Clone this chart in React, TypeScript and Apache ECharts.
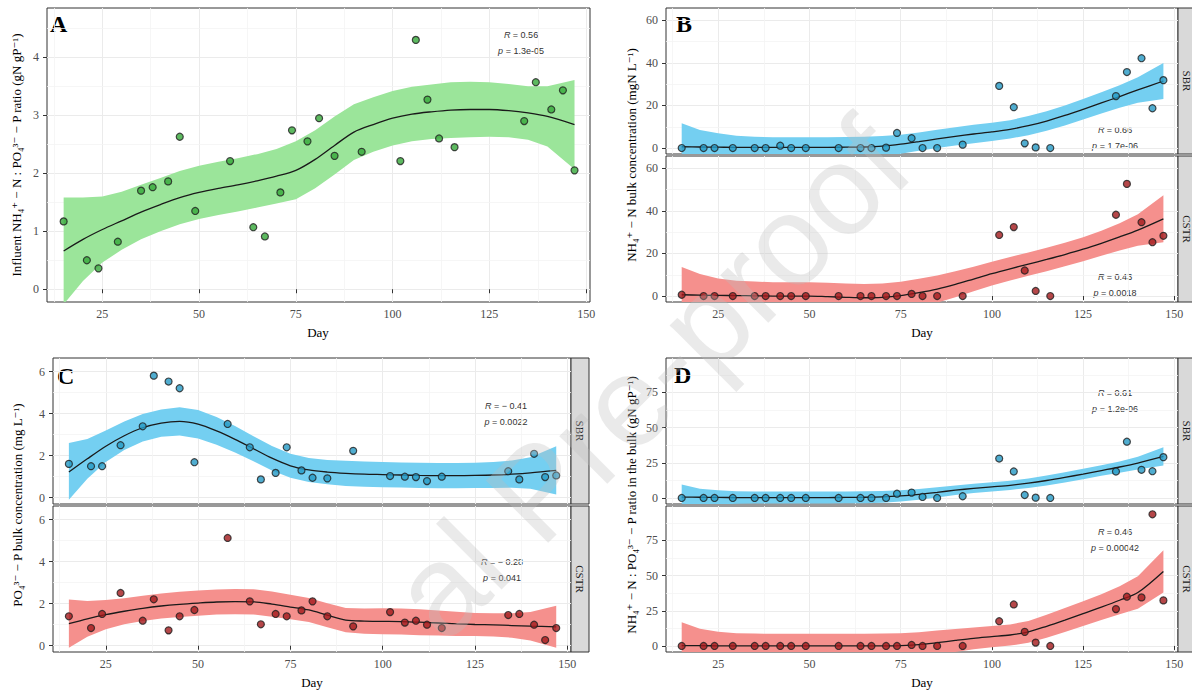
import React, { useEffect, useRef } from "react";
import * as echarts from "echarts";

// ---------- data ----------
const days = [15, 21, 24, 29, 35, 38, 42, 45, 49, 58, 64, 67, 71, 74, 78, 81, 85, 92, 102, 106, 109, 112, 116, 134, 137, 141, 144, 147];

const ratioInfluent = [1.17, 0.5, 0.36, 0.82, 1.7, 1.76, 1.86, 2.63, 1.35, 2.21, 1.07, 0.91, 1.67, 2.74, 2.55, 2.95, 2.3, 2.37, 2.21, 4.3, 3.27, 2.6, 2.45, 2.9, 3.57, 3.1, 3.43, 2.05];
const nh4SBR = [0, 0, 0, 0, 0, 0, 1.1, 0, 0, 0, 0, 0, 0.2, 7.1, 4.6, 0, 0, 1.6, 29.2, 19.2, 2.2, 0.3, 0, 24.4, 35.7, 42.2, 18.7, 31.9];
const nh4CSTR = [0.6, 0, 0, 0, 0, 0, 0, 0, 0, 0, 0, 0, 0, 0, 1, 0, 0, 0, 28.7, 32.4, 12, 2.4, 0, 38.2, 52.7, 34.7, 25.3, 28.3];
const po4SBR = [1.61, 1.5, 1.5, 2.5, 3.4, 5.81, 5.53, 5.21, 1.69, 3.51, 2.4, 0.87, 1.18, 2.4, 1.3, 0.95, 0.92, 2.23, 1.03, 1.0, 0.98, 0.79, 1.0, 1.26, 0.87, 2.09, 0.98, 1.06];
const po4CSTR = [1.4, 0.84, 1.51, 2.51, 1.19, 2.21, 0.73, 1.4, 1.7, 5.13, 2.11, 1.02, 1.51, 1.4, 1.68, 2.11, 1.4, 0.92, 1.6, 1.1, 1.19, 1.0, 0.84, 1.46, 1.51, 1.0, 0.27, 0.84];
const ratioSBR = [0, 0, 0, 0, 0, 0, 0, 0, 0, 0, 0, 0, 0, 3, 3.8, 0.7, 0, 1.2, 28, 18.8, 2.1, 0.2, 0, 18.8, 40, 20, 19, 29];
const ratioCSTR = [0, 0, 0, 0, 0, 0, 0, 0, 0, 0, 0, 0, 0, 0, 0.7, 0, 0, 0, 17.6, 29.5, 10, 2.4, 0, 26.2, 35, 34.5, 93.6, 32.4];

// smoothed fits and confidence bands
const fitDays = [15, 20, 25, 30, 35, 40, 45, 50, 55, 60, 65, 70, 75, 80, 85, 90, 95, 100, 105, 110, 115, 120, 125, 130, 135, 140, 147];

const fitA = [0.66, 0.86, 1.03, 1.18, 1.33, 1.46, 1.58, 1.67, 1.74, 1.8, 1.87, 1.95, 2.05, 2.24, 2.48, 2.71, 2.84, 2.95, 3.02, 3.06, 3.09, 3.1, 3.1, 3.08, 3.04, 2.98, 2.84];
const hiA = [1.58, 1.58, 1.6, 1.68, 1.8, 1.92, 2.04, 2.13, 2.2, 2.26, 2.33, 2.42, 2.55, 2.74, 2.98, 3.19, 3.31, 3.42, 3.49, 3.53, 3.57, 3.58, 3.57, 3.54, 3.5, 3.5, 3.61];
const loA = [-0.26, 0.14, 0.46, 0.68, 0.86, 1.0, 1.12, 1.21, 1.28, 1.34, 1.41, 1.48, 1.55, 1.74, 1.98, 2.23, 2.37, 2.48, 2.55, 2.59, 2.61, 2.62, 2.63, 2.62, 2.58, 2.46, 2.07];

const fitNh4SBR = [0.6, 0.5, 0.4, 0.3, 0.3, 0.3, 0.3, 0.3, 0.3, 0.4, 0.5, 0.9, 1.8, 3.0, 4.3, 5.5, 6.6, 7.6, 8.8, 10.5, 12.7, 15.3, 18.2, 21.2, 24.2, 27.3, 31.5];
const hiNh4SBR = [11.6, 8.5, 6.9, 5.8, 5.3, 5.1, 5.1, 5.1, 5.1, 5.2, 5.3, 5.7, 6.3, 7.3, 8.6, 9.8, 10.9, 11.9, 13.1, 15.0, 17.3, 20.0, 23.0, 26.2, 29.5, 33.3, 40.0];
const loNh4SBR = [-10.4, -7.5, -6.1, -5.2, -4.7, -4.5, -4.5, -4.5, -4.5, -4.4, -4.3, -3.9, -2.7, -1.3, 0.0, 1.2, 2.3, 3.3, 4.5, 6.0, 8.1, 10.6, 13.4, 16.2, 18.9, 21.3, 23.0];

const fitNh4CSTR = [0.6, 0.4, 0.3, 0.2, 0.1, 0.0, 0.0, 0.0, -0.3, -0.6, -0.8, -0.6, 0.2, 1.6, 3.3, 5.5, 8.0, 10.5, 12.8, 15.0, 17.2, 19.5, 22.0, 24.8, 27.8, 31.0, 36.3];
const hiNh4CSTR = [13.6, 10.4, 8.3, 7.2, 6.8, 6.5, 6.5, 6.5, 6.2, 5.9, 5.7, 5.9, 6.7, 8.1, 9.7, 11.6, 13.8, 16.1, 18.3, 20.5, 22.7, 25.0, 27.6, 30.7, 34.2, 38.4, 47.3];
const loNh4CSTR = [-12.4, -9.6, -7.7, -6.8, -6.6, -6.5, -6.5, -6.5, -6.8, -7.1, -7.3, -7.1, -6.3, -4.9, -3.1, -0.6, 2.2, 4.9, 7.3, 9.5, 11.7, 14.0, 16.4, 18.9, 21.4, 23.6, 25.3];

const fitPo4SBR = [1.22, 1.85, 2.45, 2.95, 3.33, 3.55, 3.63, 3.5, 3.18, 2.78, 2.33, 1.88, 1.52, 1.32, 1.22, 1.16, 1.12, 1.1, 1.08, 1.06, 1.05, 1.05, 1.06, 1.08, 1.12, 1.18, 1.3];
const hiPo4SBR = [2.6, 2.8, 3.2, 3.63, 3.98, 4.2, 4.3, 4.18, 3.84, 3.41, 2.93, 2.46, 2.09, 1.89, 1.8, 1.76, 1.72, 1.7, 1.68, 1.66, 1.65, 1.65, 1.66, 1.7, 1.77, 1.93, 2.45];
const loPo4SBR = [-0.1, 0.9, 1.7, 2.27, 2.68, 2.9, 2.96, 2.82, 2.52, 2.15, 1.73, 1.3, 0.95, 0.75, 0.64, 0.56, 0.52, 0.5, 0.48, 0.46, 0.45, 0.45, 0.46, 0.46, 0.47, 0.43, 0.15];

const fitPo4CSTR = [1.05, 1.28, 1.48, 1.64, 1.78, 1.89, 1.97, 2.03, 2.08, 2.1, 2.09, 1.98, 1.84, 1.7, 1.45, 1.22, 1.17, 1.16, 1.15, 1.12, 1.08, 1.04, 1.01, 0.99, 0.96, 0.93, 0.9];
const hiPo4CSTR = [2.2, 2.13, 2.18, 2.26, 2.38, 2.49, 2.57, 2.63, 2.68, 2.7, 2.69, 2.58, 2.42, 2.27, 2.02, 1.8, 1.77, 1.78, 1.77, 1.74, 1.68, 1.62, 1.56, 1.54, 1.54, 1.61, 1.9];
const loPo4CSTR = [-0.1, 0.43, 0.78, 1.02, 1.18, 1.29, 1.37, 1.43, 1.48, 1.5, 1.49, 1.38, 1.26, 1.13, 0.88, 0.64, 0.57, 0.54, 0.53, 0.5, 0.48, 0.46, 0.46, 0.44, 0.38, 0.25, -0.1];

const fitRatioSBR = [0.6, 0.5, 0.4, 0.3, 0.3, 0.3, 0.3, 0.3, 0.3, 0.4, 0.5, 0.8, 1.5, 2.6, 4.0, 5.5, 6.8, 7.9, 9.0, 10.5, 12.4, 14.6, 17.0, 19.5, 22.0, 24.8, 29.5];
const hiRatioSBR = [9.6, 6.5, 5.4, 4.8, 4.5, 4.5, 4.5, 4.5, 4.5, 4.6, 4.7, 5.0, 5.5, 6.4, 7.6, 8.9, 10.1, 11.2, 12.3, 13.9, 15.9, 18.2, 20.7, 23.3, 26.0, 29.3, 36.0];
const loRatioSBR = [-8.4, -5.5, -4.6, -4.2, -3.9, -3.9, -3.9, -3.9, -3.9, -3.8, -3.7, -3.4, -2.5, -1.2, 0.4, 2.1, 3.5, 4.6, 5.7, 7.1, 8.9, 11.0, 13.3, 15.7, 18.0, 20.3, 23.0];

const fitRatioCSTR = [0.3, 0.2, 0.1, 0.0, 0.0, 0.0, 0.0, 0.0, 0.0, 0.0, 0.0, 0.1, 0.3, 0.9, 2.3, 3.9, 5.4, 6.6, 7.8, 10.0, 14.0, 18.4, 23.0, 27.6, 32.5, 38.0, 53.0];
const hiRatioCSTR = [16.8, 12.2, 10.1, 9.0, 8.8, 8.7, 8.7, 8.7, 8.7, 8.7, 8.7, 8.8, 9.1, 9.7, 10.9, 12.1, 13.2, 14.1, 15.3, 17.8, 22.2, 26.9, 31.8, 36.8, 42.5, 49.5, 68.0];
const loRatioCSTR = [-16.2, -11.8, -9.9, -9.0, -8.8, -8.7, -8.7, -8.7, -8.7, -8.7, -8.7, -8.6, -8.5, -7.9, -6.3, -4.3, -2.4, -0.9, 0.3, 2.2, 5.8, 9.9, 14.2, 18.4, 22.5, 26.5, 38.0];

// tick labels
const xTicks = [25, 50, 75, 100, 125, 150];
const xMinor = [12.5, 37.5, 62.5, 87.5, 112.5, 137.5];
const yTicksA = [0, 1, 2, 3, 4];
const yMinorA = [0.5, 1.5, 2.5, 3.5, 4.5];
const yTicksB = [0, 20, 40, 60];
const yMinorB = [10, 30, 50];
const yTicksC = [0, 2, 4, 6];
const yMinorC = [1, 3, 5];
const yTicksD = [0, 25, 50, 75];
const yMinorD = [12.5, 37.5, 62.5, 87.5];

const statsA = ["0.56", "1.3e-05"];
const statsB = [["0.66", "1.7e-06"], ["0.43", "0.0018"]];
const statsC = [["\u2212 0.41", "0.0022"], ["\u2212 0.28", "0.041"]];
const statsD = [["0.61", "1.2e-06"], ["0.46", "0.00042"]];

// ---------- styles ----------
const SERIF = '"Liberation Serif", "DejaVu Serif", serif';
const SANS = '"Liberation Sans", "DejaVu Sans", sans-serif';
const GREEN_BAND = "#9be59a";
const GREEN_PT = "#35a838";
const BLUE_BAND = "#74cff1";
const BLUE_PT = "#2499c4";
const RED_BAND = "#f5908d";
const RED_PT = "#a3191b";
const XMIN = 10.7;
const XMAX = 151;

const panels = [
  { box: [47, 8, 543, 294], ymin: -0.22, ymax: 4.85, yt: yTicksA, ym: yMinorA, pts: ratioInfluent, fit: fitA, hi: hiA, lo: loA, band: GREEN_BAND, pt: GREEN_PT, bottom: true },
  { box: [666, 8, 512, 146], ymin: -2.8, ymax: 65.8, yt: yTicksB, ym: yMinorB, pts: nh4SBR, fit: fitNh4SBR, hi: hiNh4SBR, lo: loNh4SBR, band: BLUE_BAND, pt: BLUE_PT, bottom: false },
  { box: [666, 156, 512, 146], ymin: -2.8, ymax: 65.8, yt: yTicksB, ym: yMinorB, pts: nh4CSTR, fit: fitNh4CSTR, hi: hiNh4CSTR, lo: loNh4CSTR, band: RED_BAND, pt: RED_PT, bottom: true },
  { box: [53, 358, 518, 146], ymin: -0.3, ymax: 6.65, yt: yTicksC, ym: yMinorC, pts: po4SBR, fit: fitPo4SBR, hi: hiPo4SBR, lo: loPo4SBR, band: BLUE_BAND, pt: BLUE_PT, bottom: false },
  { box: [53, 506, 518, 146], ymin: -0.3, ymax: 6.65, yt: yTicksC, ym: yMinorC, pts: po4CSTR, fit: fitPo4CSTR, hi: hiPo4CSTR, lo: loPo4CSTR, band: RED_BAND, pt: RED_PT, bottom: true },
  { box: [666, 358, 512, 146], ymin: -4.3, ymax: 99.5, yt: yTicksD, ym: yMinorD, pts: ratioSBR, fit: fitRatioSBR, hi: hiRatioSBR, lo: loRatioSBR, band: BLUE_BAND, pt: BLUE_PT, bottom: false },
  { box: [666, 506, 512, 146], ymin: -4.3, ymax: 99.5, yt: yTicksD, ym: yMinorD, pts: ratioCSTR, fit: fitRatioCSTR, hi: hiRatioCSTR, lo: loRatioCSTR, band: RED_BAND, pt: RED_PT, bottom: true },
];

function buildOption() {
  const grid: any[] = [];
  const xAxis: any[] = [];
  const yAxis: any[] = [];
  const series: any[] = [];

  panels.forEach((p, i) => {
    const [left, top, width, height] = p.box;
    grid.push({ left, top, width, height, show: true, borderColor: "#333333", borderWidth: 1, containLabel: false });
    xAxis.push({
      type: "value", gridIndex: i, min: XMIN, max: XMAX, minInterval: 25, maxInterval: 25,
      axisLine: { show: false },
      axisTick: { show: p.bottom, length: 4, lineStyle: { color: "#333" }, customValues: xTicks },
      axisLabel: {
        show: p.bottom, customValues: xTicks, margin: 6, color: "#4d4d4d", fontFamily: SERIF, fontSize: 12,
        formatter: (v: number) => (v % 25 === 0 ? String(v) : ""),
      },
      splitLine: { show: true, lineStyle: { color: "#ebebeb", width: 1 } },
    });
    const yStep = p.yt[1] - p.yt[0];
    yAxis.push({
      type: "value", gridIndex: i, min: p.ymin, max: p.ymax, minInterval: yStep, maxInterval: yStep,
      axisLine: { show: false },
      axisTick: { show: true, length: 4, lineStyle: { color: "#333" }, customValues: p.yt },
      axisLabel: {
        show: true, customValues: p.yt, margin: 8, color: "#4d4d4d", fontFamily: SERIF, fontSize: 12,
        formatter: (v: number) => (Math.abs(v % yStep) < 1e-9 ? String(v) : ""),
      },
      splitLine: { show: true, lineStyle: { color: "#ebebeb", width: 1 } },
    });

    // confidence band (drawn through the axes' scales)
    series.push({
      type: "custom", xAxisIndex: i, yAxisIndex: i, z: 2, silent: true, clip: true,
      data: [[fitDays[0], p.fit[0]]],
      renderItem: (params: any, api: any) => {
        const pts: number[][] = [];
        for (let k = 0; k < fitDays.length; k++) pts.push(api.coord([fitDays[k], p.hi[k]]));
        for (let k = fitDays.length - 1; k >= 0; k--) pts.push(api.coord([fitDays[k], p.lo[k]]));
        const cs = params.coordSys;
        return {
          type: "polygon",
          shape: { points: pts },
          style: { fill: p.band, stroke: "none" },
          clipPath: { type: "rect", shape: { x: cs.x, y: cs.y, width: cs.width, height: cs.height } },
        };
      },
      markLine: {
        silent: true, symbol: ["none", "none"], z: 1, animation: false,
        label: { show: false },
        lineStyle: { color: "#f4f4f4", width: 0.8, type: "solid" },
        data: [...xMinor.map((v) => ({ xAxis: v })), ...p.ym.filter((v) => v < p.ymax).map((v) => ({ yAxis: v }))],
      },
    });
    series.push({
      type: "line", xAxisIndex: i, yAxisIndex: i, z: 4,
      data: fitDays.map((d, k) => [d, p.fit[k]]), symbol: "none", smooth: 0.3,
      lineStyle: { color: "#1a1a1a", width: 1.3 }, silent: true, clip: true,
    });
    series.push({
      type: "scatter", xAxisIndex: i, yAxisIndex: i, z: 6,
      data: days.map((d, k) => [d, p.pts[k]]), symbol: "circle", symbolSize: 7,
      itemStyle: { color: p.pt, borderColor: "#1e1e1e", borderWidth: 1.2 }, silent: true,
    });
  });

  const graphic: any[] = [];
  // strips
  const strips = [
    [1, "SBR"], [2, "CSTR"], [3, "SBR"], [4, "CSTR"], [5, "SBR"], [6, "CSTR"],
  ] as [number, string][];
  strips.forEach(([idx, label]) => {
    const [left, top, width, height] = panels[idx].box;
    const sx = left + width;
    graphic.push({ type: "rect", shape: { x: sx, y: top, width: 18, height }, style: { fill: "#d9d9d9", stroke: "#333333", lineWidth: 1 }, silent: true });
    graphic.push({
      type: "text", x: sx + 9, y: top + height / 2, rotation: -Math.PI / 2, silent: true,
      style: { text: label, fill: "#1a1a1a", font: `11px ${SERIF}`, align: "center", verticalAlign: "middle" },
    });
  });

  // y-axis titles
  const yTitles: [number, number, string][] = [
    [16, 155, "Influent NH\u2084\u207A \u2212 N : PO\u2084\u00B3\u207B \u2212 P ratio (gN gP\u207B\u00B9)"],
    [631, 155, "NH\u2084\u207A \u2212 N bulk concentration (mgN L\u207B\u00B9)"],
    [17, 505, "PO\u2084\u00B3\u207B \u2212 P bulk concentration (mg L\u207B\u00B9)"],
    [631, 505, "NH\u2084\u207A \u2212 N : PO\u2084\u00B3\u207B \u2212 P ratio in the bulk (gN gP\u207B\u00B9)"],
  ];
  yTitles.forEach(([x, y, t]) => {
    graphic.push({
      type: "text", x, y, rotation: Math.PI / 2, silent: true,
      style: { text: t, fill: "#000", font: `13px ${SERIF}`, align: "center", verticalAlign: "middle" },
    });
  });

  // x-axis titles
  [[318, 332], [922, 332], [312, 682], [922, 682]].forEach(([x, y]) => {
    graphic.push({ type: "text", x, y, silent: true, style: { text: "Day", fill: "#000", font: `13px ${SERIF}`, align: "center", verticalAlign: "middle" } });
  });

  // panel letters
  [["A", 50, 24], ["B", 676, 24], ["C", 57, 376], ["D", 674, 375]].forEach(([t, x, y]) => {
    graphic.push({ type: "text", x, y, silent: true, style: { text: t, fill: "#000", font: `bold 24px ${SERIF}`, align: "left", verticalAlign: "middle" } });
  });

  // stats annotations
  const ann: [number, number, string[]][] = [
    [521, 35, statsA],
    [1115, 130, statsB[0]], [1115, 277, statsB[1]],
    [506, 406, statsC[0]], [502, 562, statsC[1]],
    [1115, 393, statsD[0]], [1115, 532, statsD[1]],
  ];
  const rich = { i: { fontStyle: "italic", fontFamily: SANS, fontSize: 9, fill: "#333" } };
  ann.forEach(([x, y, s]) => {
    graphic.push({ type: "text", x, y, silent: true, style: { text: `{i|R} = ${s[0]}`, rich, fill: "#333", fontFamily: SANS, fontSize: 9, align: "center", verticalAlign: "middle" } });
    graphic.push({ type: "text", x, y: y + 16, silent: true, style: { text: `{i|p} = ${s[1]}`, rich, fill: "#333", fontFamily: SANS, fontSize: 9, align: "center", verticalAlign: "middle" } });
  });

  // watermark (visible part)
  graphic.push({
    type: "text", x: 650, y: 378, rotation: Math.PI / 4, silent: true, z: 100,
    style: { text: "al Pre-proof", fill: "rgba(190,190,190,0.32)", font: `128px ${SANS}`, align: "center", verticalAlign: "middle" },
  });

  return { animation: false, backgroundColor: "#ffffff", grid, xAxis, yAxis, series, graphic };
}

export default function App() {
  const ref = useRef<HTMLDivElement>(null);
  useEffect(() => {
    if (!ref.current) return;
    const chart = echarts.init(ref.current, undefined, { renderer: "svg" });
    chart.setOption(buildOption() as any);
    return () => chart.dispose();
  }, []);
  return <div ref={ref} style={{ position: "fixed", left: 0, top: 0, width: 1192, height: 691, background: "#fff" }} />;
}
